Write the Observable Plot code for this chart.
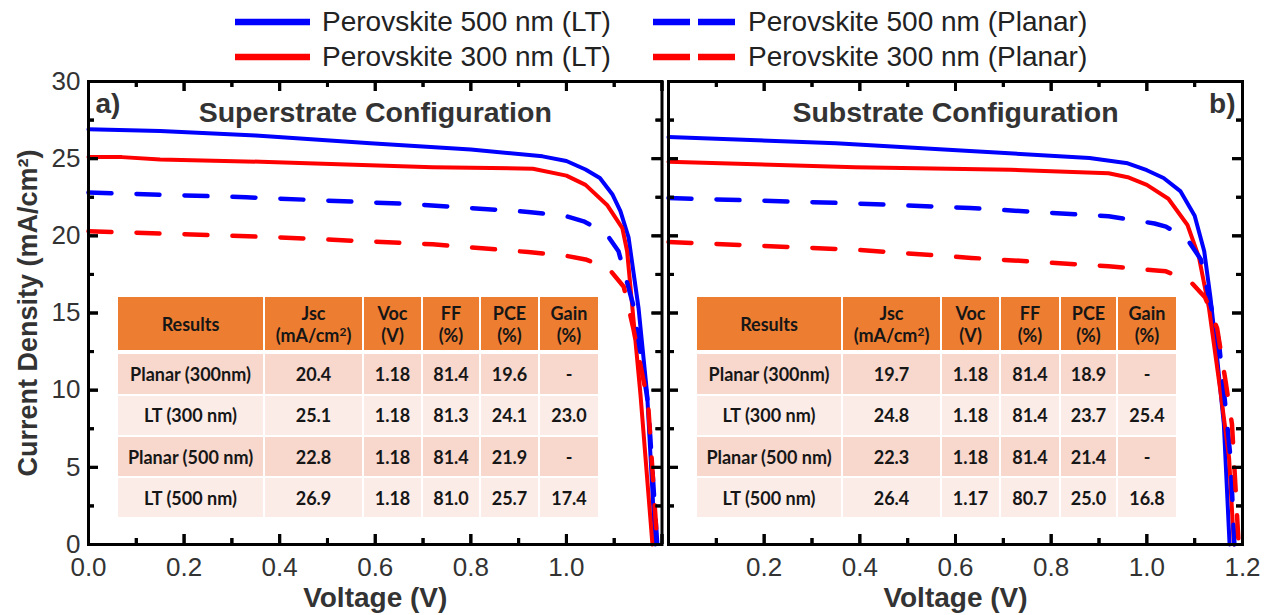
<!DOCTYPE html>
<html><head><meta charset="utf-8">
<script src="https://cdn.jsdelivr.net/npm/d3@7"></script>
<script src="https://cdn.jsdelivr.net/npm/@observablehq/plot@0.6"></script>
<style>
html,body{margin:0;padding:0;background:#fff;}
#root{position:relative;width:1270px;height:615px;overflow:hidden;font-family:"Liberation Sans",Arial,sans-serif;}
#root svg{overflow:visible;}
.panel{position:absolute;top:70px;}
.overlay{position:absolute;top:70px;pointer-events:none;z-index:5;}
.legend-item{position:absolute;display:flex;align-items:center;height:34px;font-size:28px;color:#222;white-space:nowrap;}
.legend-item svg{display:block;}
.cell{position:absolute;display:flex;flex-direction:column;align-items:center;justify-content:center;font-family:Lato,"Open Sans",sans-serif;font-weight:700;font-size:18px;color:#161616;line-height:22px;white-space:nowrap;}
.cell sup{font-size:12px;line-height:0;vertical-align:6px;}
</style></head><body><div id="root"></div><script>
// ---------------- data ----------------
const seriesNames = ["Perovskite 500 nm (LT)", "Perovskite 500 nm (Planar)", "Perovskite 300 nm (LT)", "Perovskite 300 nm (Planar)"];
const drawOrder = ["Perovskite 500 nm (LT)", "Perovskite 300 nm (LT)", "Perovskite 500 nm (Planar)", "Perovskite 300 nm (Planar)"];

const xMajor = [0, 0.2, 0.4, 0.6, 0.8, 1.0, 1.2];
const xMinor = [0.1, 0.3, 0.5, 0.7, 0.9, 1.1];
const yMajor = [0, 5, 10, 15, 20, 25, 30];
const yMinor = [2.5, 7.5, 12.5, 17.5, 22.5, 27.5];
const xLabelsA = [0, 0.2, 0.4, 0.6, 0.8, 1.0];
const xLabelsB = [0.2, 0.4, 0.6, 0.8, 1.0, 1.2];
const yLabels = [0, 5, 10, 15, 20, 25, 30];

// (a) Superstrate configuration
const supLT500V = [0, 0.15, 0.35, 0.59, 0.8, 0.95, 1.0, 1.04, 1.07, 1.096, 1.113, 1.13, 1.151, 1.169, 1.186];
const supLT500J = [26.9, 26.8, 26.5, 26.0, 25.6, 25.15, 24.85, 24.3, 23.75, 22.7, 21.6, 19.9, 15.3, 9.7, 0];
const supLT300V = [0, 0.07, 0.15, 0.36, 0.72, 0.93, 1.0, 1.04, 1.085, 1.117, 1.127, 1.155, 1.18];
const supLT300J = [25.1, 25.1, 24.95, 24.8, 24.45, 24.35, 23.9, 23.3, 22.0, 20.5, 19.0, 9.7, 0];
const supPl500V = [0, 0.33, 0.68, 0.92, 1.0, 1.036, 1.082, 1.109, 1.14, 1.171, 1.19];
const supPl500J = [22.8, 22.5, 22.05, 21.55, 21.27, 20.94, 20.2, 19.0, 15.5, 9.1, 0];
const supPl300V = [0, 0.4, 0.72, 0.92, 1.0, 1.04, 1.088, 1.12, 1.14, 1.171, 1.19];
const supPl300J = [20.3, 19.9, 19.45, 18.95, 18.7, 18.47, 17.9, 16.7, 14.0, 9.1, 0];

// (b) Substrate configuration
const subLT500V = [0, 0.35, 0.63, 0.88, 0.96, 1.0, 1.035, 1.07, 1.1, 1.12, 1.133, 1.147, 1.161, 1.173];
const subLT500J = [26.4, 26.0, 25.5, 25.05, 24.7, 24.25, 23.75, 22.9, 21.3, 19.0, 16.0, 12.1, 7.8, 0];
const subLT300V = [0, 0.39, 0.715, 0.92, 0.96, 1.0, 1.045, 1.085, 1.109, 1.13, 1.154, 1.172, 1.182];
const subLT300J = [24.8, 24.45, 24.28, 24.05, 23.8, 23.3, 22.4, 20.7, 18.6, 15.3, 9.9, 5.6, 0];
const subPl500V = [0, 0.39, 0.63, 0.92, 1.016, 1.04, 1.085, 1.113, 1.13, 1.15, 1.161, 1.175, 1.183];
const subPl500J = [22.45, 22.1, 21.8, 21.27, 20.8, 20.6, 19.76, 18.47, 16.0, 13.3, 10.0, 5.6, 0];
const subPl300V = [0, 0.39, 0.633, 0.92, 1.02, 1.04, 1.09, 1.122, 1.147, 1.165, 1.178, 1.192];
const subPl300J = [19.6, 19.1, 18.57, 18.03, 17.75, 17.7, 17.07, 16.0, 14.0, 10.5, 7.8, 0];

// inset tables
const tableHeaderTop = ["Results", "Jsc", "Voc", "FF", "PCE", "Gain"];
const tableHeaderBottom = ["", "(mA/cm<sup>2</sup>)", "(V)", "(%)", "(%)", "(%)"];
const tableRowLabels = ["Planar (300nm)", "LT (300 nm)", "Planar (500 nm)", "LT (500 nm)"];
const supJsc = ["20.4", "25.1", "22.8", "26.9"];
const supVoc = ["1.18", "1.18", "1.18", "1.18"];
const supFF = ["81.4", "81.3", "81.4", "81.0"];
const supPCE = ["19.6", "24.1", "21.9", "25.7"];
const supGain = ["-", "23.0", "-", "17.4"];
const subJsc = ["19.7", "24.8", "22.3", "26.4"];
const subVoc = ["1.18", "1.18", "1.18", "1.17"];
const subFF = ["81.4", "81.4", "81.4", "80.7"];
const subPCE = ["18.9", "23.7", "21.4", "25.0"];
const subGain = ["-", "25.4", "-", "16.8"];

const panelTitles = ["Superstrate Configuration", "Substrate Configuration"];
const panelTags = ["a)", "b)"];
const xTitle = "Voltage (V)";
const yTitle = "Current Density (mA/cm\u00B2)";

// ---------------- styles / layout ----------------
const seriesColor = {"Perovskite 500 nm (LT)": "#0000ff", "Perovskite 500 nm (Planar)": "#0000ff", "Perovskite 300 nm (LT)": "#ff0000", "Perovskite 300 nm (Planar)": "#ff0000"};
const seriesDashed = {"Perovskite 500 nm (LT)": false, "Perovskite 500 nm (Planar)": true, "Perovskite 300 nm (LT)": false, "Perovskite 300 nm (Planar)": true};
const FONT = "Liberation Sans, Arial, sans-serif";
const TEXT = "#333";
const H = 545, MT = 11, MB = 71;
const root = document.getElementById("root");

function rowsOf(V, J, series) { return V.map((v, i) => ({V: v, J: J[i], series})); }
const supCurves = {
  "Perovskite 500 nm (LT)": rowsOf(supLT500V, supLT500J, "Perovskite 500 nm (LT)"),
  "Perovskite 300 nm (LT)": rowsOf(supLT300V, supLT300J, "Perovskite 300 nm (LT)"),
  "Perovskite 500 nm (Planar)": rowsOf(supPl500V, supPl500J, "Perovskite 500 nm (Planar)"),
  "Perovskite 300 nm (Planar)": rowsOf(supPl300V, supPl300J, "Perovskite 300 nm (Planar)")
};
const subCurves = {
  "Perovskite 500 nm (LT)": rowsOf(subLT500V, subLT500J, "Perovskite 500 nm (LT)"),
  "Perovskite 300 nm (LT)": rowsOf(subLT300V, subLT300J, "Perovskite 300 nm (LT)"),
  "Perovskite 500 nm (Planar)": rowsOf(subPl500V, subPl500J, "Perovskite 500 nm (Planar)"),
  "Perovskite 300 nm (Planar)": rowsOf(subPl300V, subPl300J, "Perovskite 300 nm (Planar)")
};

// inward ticks on all four sides
function tickMarks(fw, fh) {
  const s = {stroke: "#000", strokeWidth: 3};
  const major = 10, minor = 6;
  return [
    Plot.tickX(xMajor, {x: d => d, insetTop: fh - major, ...s}),
    Plot.tickX(xMinor, {x: d => d, insetTop: fh - minor, ...s}),
    Plot.tickX(xMajor, {x: d => d, insetBottom: fh - major, ...s}),
    Plot.tickX(xMinor, {x: d => d, insetBottom: fh - minor, ...s}),
    Plot.tickY(yMajor, {y: d => d, insetRight: fw - major, ...s}),
    Plot.tickY(yMinor, {y: d => d, insetRight: fw - minor, ...s}),
    Plot.tickY(yMajor, {y: d => d, insetLeft: fw - major, ...s}),
    Plot.tickY(yMinor, {y: d => d, insetLeft: fw - minor, ...s})
  ];
}

function curveMarks(curves) {
  return drawOrder.map(name => Plot.line(curves[name], {
    x: "V", y: "J", stroke: seriesColor[name],
    strokeWidth: seriesDashed[name] ? 4.5 : 4,
    strokeDasharray: seriesDashed[name] ? "23,25" : null,
    strokeLinejoin: "round"
  }));
}

function makePanel({curves, width, marginLeft, marginRight, xLabels, title, tag, tagRight, showY}) {
  const fw = width - marginLeft - marginRight, fh = H - MT - MB;
  return Plot.plot({
    width, height: H, marginTop: MT, marginBottom: MB, marginLeft, marginRight,
    x: {domain: [0, 1.2], axis: null},
    y: {domain: [0, 30], axis: null},
    style: {fontFamily: FONT, background: "transparent", overflow: "visible"},
    marks: [
      ...curveMarks(curves),
      Plot.frame({stroke: "#000", strokeWidth: 3}),
      ...tickMarks(fw, fh),
      Plot.axisX(xLabels, {anchor: "bottom", tickSize: 0, tickPadding: 13, tickFormat: d3.format(".1f"), fontSize: 26, fill: TEXT, label: null}),
      showY ? Plot.axisY(yLabels, {anchor: "left", tickSize: 0, tickPadding: 8, fontSize: 26, fill: TEXT, label: null}) : null,
      showY ? Plot.text([yTitle], {text: d => d, frameAnchor: "left", dx: -60, rotate: -90, textAnchor: "middle", lineAnchor: "middle", fontSize: 27, fontWeight: "bold", fill: TEXT}) : null,
      Plot.text([xTitle], {text: d => d, frameAnchor: "bottom", dy: 54, lineAnchor: "middle", fontSize: 28, fontWeight: "bold", fill: TEXT}),
      Plot.text([title], {text: d => d, frameAnchor: "top", dy: 31, lineAnchor: "middle", fontSize: 28.5, fontWeight: "bold", fill: TEXT}),
      Plot.text([tag], {text: d => d, frameAnchor: tagRight ? "top-right" : "top-left", dx: tagRight ? -7 : 7, dy: 23,
        textAnchor: tagRight ? "end" : "start", lineAnchor: "middle", fontSize: 28, fontWeight: "bold", fill: TEXT})
    ]
  });
}

// a tick-only plot laid exactly over a panel (same scales and margins)
function makeTickOverlay({width, marginLeft, marginRight}) {
  const fw = width - marginLeft - marginRight, fh = H - MT - MB;
  return Plot.plot({
    width, height: H, marginTop: MT, marginBottom: MB, marginLeft, marginRight,
    x: {domain: [0, 1.2], axis: null},
    y: {domain: [0, 30], axis: null},
    style: {background: "transparent", overflow: "visible"},
    marks: tickMarks(fw, fh)
  });
}

const leftOpts = {curves: supCurves, width: 664, marginLeft: 88, marginRight: 2.5, xLabels: xLabelsA, title: panelTitles[0], tag: panelTags[0], tagRight: false, showY: true};
const rightOpts = {curves: subCurves, width: 606, marginLeft: 4, marginRight: 28, xLabels: xLabelsB, title: panelTitles[1], tag: panelTags[1], tagRight: true, showY: false};
const left = makePanel(leftOpts);
left.classList.add("panel"); left.style.left = "0px";
root.appendChild(left);
const right = makePanel(rightOpts);
right.classList.add("panel"); right.style.left = "664px";
root.appendChild(right);

// legend
const legendPos = {
  "Perovskite 500 nm (LT)": [235, 22], "Perovskite 500 nm (Planar)": [653, 22],
  "Perovskite 300 nm (LT)": [235, 57], "Perovskite 300 nm (Planar)": [653, 57]
};
seriesNames.forEach(name => {
  const [lx, ly] = legendPos[name];
  const item = document.createElement("div");
  item.className = "legend-item";
  item.style.left = lx + "px"; item.style.top = (ly - 17) + "px";
  const dashed = seriesDashed[name];
  const w = dashed ? 82 : 75;
  item.innerHTML = `<svg width="${w}" height="8"><line x1="0" x2="${w}" y1="4" y2="4" stroke="${seriesColor[name]}" stroke-width="6.5" ${dashed ? 'stroke-dasharray="37,8"' : ""}/></svg><span style="margin-left:${dashed ? 13 : 12}px">${name}</span>`;
  root.appendChild(item);
});

// tables
function makeTable(colEdges, cols) {
  const rowEdges = [[297, 350], [354, 393.5], [395.5, 435], [437, 476], [478, 517]];
  const bandColors = ["#F8D7CD", "#FCECE8"];
  const add = (r, c, html, bg) => {
    const d = document.createElement("div");
    d.className = "cell";
    const xa = colEdges[c] + (c > 0 ? 1 : 0), xb = colEdges[c + 1] - (c < colEdges.length - 2 ? 1 : 0);
    d.style.left = xa + "px"; d.style.width = (xb - xa) + "px";
    d.style.top = rowEdges[r][0] + "px"; d.style.height = (rowEdges[r][1] - rowEdges[r][0]) + "px";
    d.style.background = bg;
    d.innerHTML = html;
    root.appendChild(d);
  };
  tableHeaderTop.forEach((h, c) => add(0, c, tableHeaderBottom[c] ? `<div>${h}</div><div>${tableHeaderBottom[c]}</div>` : h, "#ED7D31"));
  tableRowLabels.forEach((lab, r) => {
    const bg = bandColors[r % 2];
    add(r + 1, 0, lab, bg);
    cols.forEach((col, c) => add(r + 1, c + 1, col[r], bg));
  });
}
makeTable([118, 264, 363, 422, 480, 539, 598], [supJsc, supVoc, supFF, supPCE, supGain]);
makeTable([697, 842, 941, 1000, 1060, 1117, 1176], [subJsc, subVoc, subFF, subPCE, subGain]);

// tick overlays on top of everything
const leftTicks = makeTickOverlay(leftOpts);
leftTicks.classList.add("overlay"); leftTicks.style.left = "0px";
root.appendChild(leftTicks);
const rightTicks = makeTickOverlay(rightOpts);
rightTicks.classList.add("overlay"); rightTicks.style.left = "664px";
root.appendChild(rightTicks);
</script></body></html>
